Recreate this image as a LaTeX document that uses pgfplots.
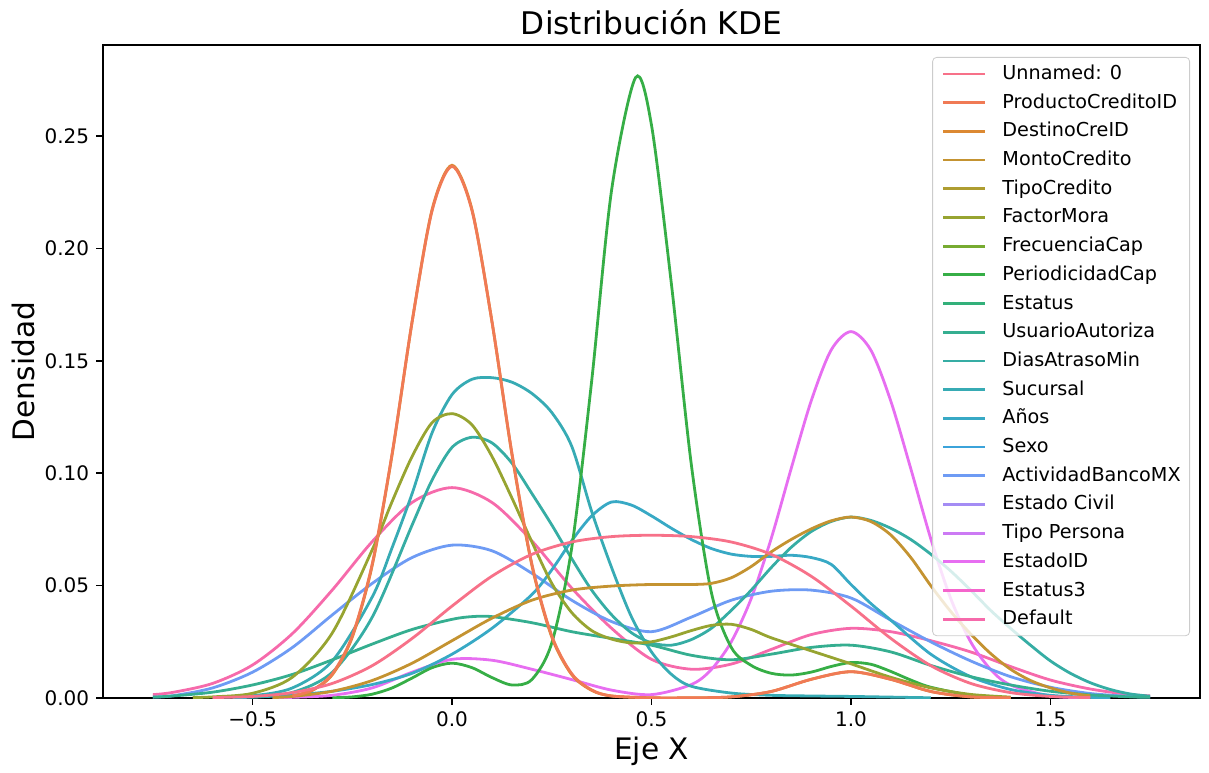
\documentclass[border=0pt]{standalone}
\usepackage{pgfplots}
\pgfplotsset{compat=1.18}
\usepackage{fontspec}
\setmainfont{DejaVu Sans}

% husl palette, 20 levels
\definecolor{c0}{HTML}{F77189}
\definecolor{c1}{HTML}{F07A55}
\definecolor{c2}{HTML}{DC8932}
\definecolor{c3}{HTML}{C49331}
\definecolor{c4}{HTML}{AE9D31}
\definecolor{c5}{HTML}{97A431}
\definecolor{c6}{HTML}{77AB31}
\definecolor{c7}{HTML}{36AE46}
\definecolor{c8}{HTML}{33B07A}
\definecolor{c9}{HTML}{35AE90}
\definecolor{c10}{HTML}{36ADA4}
\definecolor{c11}{HTML}{37ABB4}
\definecolor{c12}{HTML}{38A9C5}
\definecolor{c13}{HTML}{3BA3DA}
\definecolor{c14}{HTML}{6E9BF4}
\definecolor{c15}{HTML}{A48CF4}
\definecolor{c16}{HTML}{CC7AF4}
\definecolor{c17}{HTML}{E76EF1}
\definecolor{c18}{HTML}{F565CC}
\definecolor{c19}{HTML}{F66AAB}

\begin{document}
\begin{tikzpicture}
\begin{axis}[
    scale only axis,
    width=548.5pt, height=326.5pt,
    xmin=-0.875, xmax=1.875,
    ymin=0, ymax=0.2905,
    axis line style={line width=0.8pt},
    tick align=outside,
    xtick pos=left, ytick pos=left,
    major tick length=3.4pt,
    tick style={line width=0.8pt, black},
    xtick={-0.5,0,0.5,1,1.5},
    xticklabels={−0.5,0.0,0.5,1.0,1.5},
    ytick={0,0.05,0.1,0.15,0.2,0.25},
    yticklabels={0.00,0.05,0.10,0.15,0.20,0.25},
    tick label style={font=\fontsize{10}{12}\selectfont},
    title={Distribución KDE},
    title style={font=\fontsize{15.6}{18}\selectfont, at={(axis description cs:0.5,1.0123)}, anchor=base, yshift=-5pt},
    xlabel={Eje X},
    ylabel={Densidad},
    label style={font=\fontsize{14.8}{17}\selectfont},
    xlabel style={at={(axis description cs:0.5,-0.0949)}, anchor=base},
    ylabel style={at={(axis description cs:-0.062,0.5)}, anchor=base},
    every axis plot/.append style={line width=1.4pt, smooth, no markers},
    reverse legend,
    legend cell align=left,
    legend image code/.code={\draw[#1, line width=1.4pt] (0pt,0pt) -- (21pt,0pt);},
    legend style={at={(1,1)}, anchor=north east, xshift=-5pt, yshift=-6pt,
        draw=black!20, rounded corners=2pt, fill=white, fill opacity=0.8,
        draw opacity=1, text opacity=1,
        font=\fontsize{9.6}{11.5}\selectfont,
        inner xsep=4.5pt, inner ysep=3.5pt,
        row sep=4.85pt, column sep=8pt,
        nodes={inner sep=0pt, text height=7.5pt, text depth=2pt}},
]

% Default
\addplot[c19] coordinates {(-0.75,0.0015) (-0.7,0.0025) (-0.6,0.0065) (-0.5,0.0147) (-0.4,0.0287) (-0.3,0.0481) (-0.2,0.0696) (-0.1,0.087) (0,0.0936) (0.1,0.087) (0.2,0.0699) (0.3,0.0489) (0.4,0.031) (0.5,0.0172) (0.6,0.0128) (0.7,0.0151) (0.8,0.0216) (0.9,0.0282) (1.0,0.031) (1.1,0.0295) (1.2,0.0255) (1.3,0.0205) (1.4,0.014) (1.5,0.008) (1.6,0.004) (1.7,0.0015) (1.75,0.001)};
\addlegendentry{Default}
\addlegendimage{c18}
\addlegendentry{Estatus3}
% EstadoID
\addplot[c17] coordinates {(-0.45,0.0001) (-0.4,0.0003) (-0.3,0.0012) (-0.2,0.0045) (-0.1,0.0115) (0,0.0172) (0.1,0.0168) (0.2,0.0128) (0.3,0.0082) (0.4,0.0035) (0.5,0.0015) (0.6,0.006) (0.65,0.0127) (0.7,0.025) (0.75,0.0443) (0.8,0.0709) (0.85,0.102) (0.9,0.132) (0.95,0.1547) (1.0,0.163) (1.05,0.1547) (1.1,0.132) (1.15,0.102) (1.2,0.0709) (1.25,0.0443) (1.3,0.025) (1.35,0.0127) (1.4,0.0058) (1.5,0.0009) (1.6,0.0001)};
\addlegendentry{EstadoID}
\addlegendimage{c16}
\addlegendentry{Tipo Persona}
\addlegendimage{c15}
\addlegendentry{Estado Civil}
% ActividadBancoMX
\addplot[c14] coordinates {(-0.75,0.0004) (-0.7,0.001) (-0.6,0.0045) (-0.5,0.0115) (-0.4,0.0225) (-0.3,0.037) (-0.2,0.051) (-0.1,0.0625) (0,0.068) (0.1,0.0655) (0.2,0.0555) (0.3,0.0435) (0.4,0.034) (0.5,0.0295) (0.6,0.036) (0.7,0.0435) (0.8,0.0475) (0.9,0.048) (1.0,0.0445) (1.1,0.0346) (1.2,0.025) (1.3,0.0165) (1.4,0.0095) (1.5,0.0048) (1.6,0.002) (1.7,0.0007) (1.75,0.0004)};
\addlegendentry{ActividadBancoMX}
\addlegendimage{c13}
\addlegendentry{Sexo}
% Años
\addplot[c12] coordinates {(-0.55,0.0001) (-0.5,0.0004) (-0.4,0.0013) (-0.3,0.003) (-0.2,0.006) (-0.1,0.011) (0,0.0195) (0.1,0.031) (0.2,0.046) (0.25,0.057) (0.3,0.07) (0.35,0.081) (0.4,0.0872) (0.45,0.0858) (0.5,0.081) (0.55,0.0755) (0.6,0.0705) (0.65,0.0665) (0.7,0.064) (0.75,0.063) (0.8,0.063) (0.85,0.0635) (0.9,0.0625) (0.95,0.0595) (1.0,0.0505) (1.05,0.042) (1.1,0.0346) (1.2,0.0195) (1.3,0.0095) (1.4,0.0038) (1.5,0.0012) (1.6,0.0003) (1.65,0.0001)};
\addlegendentry{Años}
% Sucursal
\addplot[c11] coordinates {(-0.6,0.0002) (-0.5,0.001) (-0.4,0.0045) (-0.3,0.0165) (-0.2,0.045) (-0.15,0.067) (-0.1,0.091) (-0.05,0.118) (0,0.135) (0.05,0.1418) (0.1,0.1425) (0.15,0.1405) (0.2,0.1355) (0.25,0.127) (0.3,0.112) (0.35,0.083) (0.4,0.058) (0.45,0.036) (0.5,0.0205) (0.55,0.0105) (0.6,0.0052) (0.7,0.0022) (0.8,0.0012) (0.9,0.0009) (1.0,0.0007) (1.1,0.0004) (1.2,0.0001)};
\addlegendentry{Sucursal}
% DiasAtrasoMin
\addplot[c10] coordinates {(-0.5,0.0004) (-0.4,0.0025) (-0.3,0.0115) (-0.2,0.036) (-0.1,0.077) (-0.05,0.097) (0,0.1115) (0.05,0.116) (0.1,0.1135) (0.15,0.1045) (0.2,0.091) (0.25,0.077) (0.3,0.062) (0.35,0.048) (0.4,0.037) (0.45,0.029) (0.5,0.0245) (0.55,0.0235) (0.6,0.026) (0.65,0.031) (0.7,0.039) (0.75,0.048) (0.8,0.058) (0.85,0.067) (0.9,0.074) (0.95,0.0785) (1.0,0.0805) (1.05,0.079) (1.1,0.0755) (1.15,0.0705) (1.2,0.064) (1.25,0.0565) (1.3,0.048) (1.35,0.039) (1.4,0.031) (1.45,0.0235) (1.5,0.0165) (1.55,0.011) (1.6,0.0068) (1.65,0.0038) (1.7,0.0018) (1.75,0.0008)};
\addlegendentry{DiasAtrasoMin}
% UsuarioAutoriza
\addplot[c9] coordinates {(-0.75,0.0004) (-0.7,0.0009) (-0.6,0.0026) (-0.5,0.0058) (-0.4,0.0105) (-0.3,0.017) (-0.2,0.024) (-0.1,0.0305) (0,0.035) (0.05,0.0362) (0.1,0.0362) (0.2,0.0335) (0.3,0.0295) (0.4,0.0265) (0.5,0.0235) (0.6,0.019) (0.7,0.017) (0.8,0.0195) (0.9,0.0225) (1.0,0.0235) (1.1,0.0205) (1.2,0.0145) (1.3,0.0095) (1.4,0.0058) (1.5,0.003) (1.6,0.0014) (1.7,0.0005) (1.75,0.0003)};
\addlegendentry{UsuarioAutoriza}
\addlegendimage{c8}
\addlegendentry{Estatus}
% PeriodicidadCap
\addplot[c7] coordinates {(-0.3,0.0001) (-0.25,0.0005) (-0.2,0.0017) (-0.15,0.0045) (-0.1,0.0089) (-0.05,0.0135) (0,0.0155) (0.05,0.0135) (0.1,0.0091) (0.15,0.0058) (0.2,0.0082) (0.25,0.0245) (0.3,0.0668) (0.35,0.141) (0.4,0.226) (0.46,0.276) (0.5,0.2548) (0.55,0.184) (0.6,0.1036) (0.65,0.047) (0.7,0.0225) (0.75,0.0145) (0.8,0.011) (0.85,0.0102) (0.9,0.0115) (0.95,0.014) (1.0,0.0158) (1.05,0.015) (1.1,0.0118) (1.15,0.008) (1.2,0.0048) (1.3,0.0013) (1.4,0.0002)};
\addlegendentry{PeriodicidadCap}
\addlegendimage{c6}
\addlegendentry{FrecuenciaCap}
% FactorMora
\addplot[c5] coordinates {(-0.65,0.0002) (-0.6,0.0005) (-0.5,0.0021) (-0.4,0.0093) (-0.3,0.029) (-0.2,0.066) (-0.15,0.0875) (-0.1,0.1075) (-0.05,0.1225) (0,0.1265) (0.05,0.1215) (0.1,0.1075) (0.15,0.089) (0.2,0.0695) (0.25,0.051) (0.3,0.038) (0.35,0.030) (0.4,0.0262) (0.45,0.0245) (0.5,0.025) (0.55,0.0272) (0.6,0.030) (0.65,0.0323) (0.7,0.0328) (0.75,0.0305) (0.8,0.0268) (0.9,0.021) (1.0,0.0152) (1.1,0.0092) (1.2,0.0045) (1.3,0.0016) (1.4,0.0004)};
\addlegendentry{FactorMora}
\addlegendimage{c4}
\addlegendentry{TipoCredito}
% MontoCredito
\addplot[c3] coordinates {(-0.45,0.0002) (-0.4,0.0007) (-0.3,0.003) (-0.2,0.0078) (-0.1,0.0155) (0,0.0255) (0.1,0.0355) (0.2,0.0435) (0.3,0.048) (0.4,0.0498) (0.5,0.0505) (0.6,0.0505) (0.65,0.051) (0.7,0.0535) (0.75,0.0585) (0.8,0.065) (0.85,0.0705) (0.9,0.0752) (0.95,0.0788) (1.0,0.0805) (1.05,0.0785) (1.1,0.0725) (1.15,0.0625) (1.2,0.050) (1.25,0.0385) (1.3,0.0285) (1.35,0.0198) (1.4,0.0128) (1.45,0.0078) (1.5,0.0045) (1.55,0.0022) (1.6,0.001)};
\addlegendentry{MontoCredito}
% DestinoCreID
\addplot[c2] coordinates {(-0.4,0.0009) (-0.35,0.0034) (-0.3,0.0104) (-0.25,0.0271) (-0.2,0.0591) (-0.15,0.1085) (-0.1,0.1675) (-0.05,0.2173) (0,0.237) (0.05,0.2173) (0.1,0.1675) (0.15,0.1085) (0.2,0.0591) (0.25,0.0271) (0.3,0.0104) (0.35,0.0034) (0.4,0.0009) (0.5,0.0001) (0.6,0.0001) (0.7,0.0005) (0.8,0.0029) (0.9,0.0083) (1.0,0.0117) (1.1,0.0083) (1.2,0.0029) (1.3,0.0005) (1.4,0.0001)};
\addlegendentry{DestinoCreID}
% ProductoCreditoID
\addplot[c1] coordinates {(-0.4,0.0009) (-0.35,0.0036) (-0.3,0.0108) (-0.25,0.0277) (-0.2,0.0597) (-0.15,0.109) (-0.1,0.1675) (-0.05,0.2168) (0,0.2365) (0.05,0.2168) (0.1,0.1675) (0.15,0.109) (0.2,0.0597) (0.25,0.0277) (0.3,0.0108) (0.35,0.0036) (0.4,0.0009) (0.5,0.0001) (0.6,0.0001) (0.7,0.0005) (0.8,0.0029) (0.9,0.0083) (1.0,0.0117) (1.1,0.0083) (1.2,0.0029) (1.3,0.0005) (1.4,0.0001)};
\addlegendentry{ProductoCreditoID}
% Unnamed: 0
\addplot[c0] coordinates {(-0.6,0.0002) (-0.5,0.0007) (-0.4,0.0024) (-0.3,0.0065) (-0.2,0.0144) (-0.1,0.0265) (0,0.0409) (0.1,0.0542) (0.2,0.0639) (0.3,0.0694) (0.4,0.0718) (0.5,0.0724) (0.6,0.0718) (0.7,0.0694) (0.8,0.0639) (0.9,0.0542) (1.0,0.0409) (1.1,0.0265) (1.2,0.0144) (1.3,0.0065) (1.4,0.0024) (1.5,0.0007) (1.6,0.0002)};
\addlegendentry{Unnamed: 0}

\end{axis}
\pgfresetboundingbox
\path[use as bounding box] ([xshift=-51.5pt,yshift=-37pt]current axis.south west) rectangle ([xshift=4.5pt,yshift=22.5pt]current axis.north east);
\end{tikzpicture}
\end{document}
